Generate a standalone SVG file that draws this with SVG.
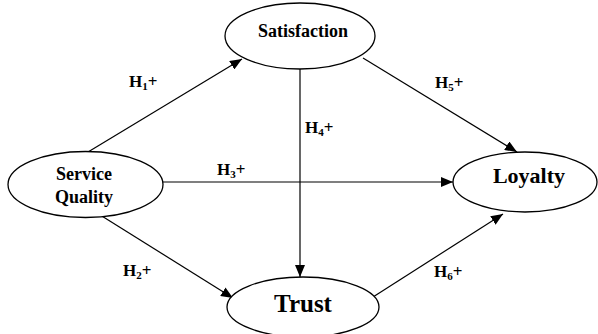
<svg xmlns="http://www.w3.org/2000/svg" width="598" height="334" viewBox="0 0 598 334">
<style>
.node{fill:#fff;stroke:#000;stroke-width:1.3}
.lbl{font-family:"Liberation Serif","Times New Roman",serif;font-weight:bold;fill:#000;text-anchor:middle}
.h{font-family:"Liberation Serif","Times New Roman",serif;font-weight:bold;font-size:17px;fill:#000}
.sub{font-size:11px}
.edge{stroke:#000;stroke-width:1.2;fill:none;marker-end:url(#ah)}
</style>
<defs>
<marker id="ah" viewBox="0 0 12 10" refX="12" refY="5" markerWidth="12" markerHeight="10" markerUnits="userSpaceOnUse" orient="auto">
<path d="M0,0 L12,5 L0,10 Z" fill="#000"/>
</marker>
</defs>
<rect width="598" height="334" fill="#fff"/>
<g id="connectors">
<line class="edge" x1="88" y1="152" x2="242" y2="59"/>
<line class="edge" x1="363" y1="58" x2="517" y2="152"/>
<line class="edge" x1="300" y1="69" x2="300" y2="277"/>
<line class="edge" x1="163" y1="182" x2="453" y2="182"/>
<line class="edge" x1="97" y1="213" x2="233" y2="298"/>
<line class="edge" x1="373" y1="297" x2="503" y2="214"/>
</g>
<g id="labels">
<text class="h" x="129" y="87">H<tspan class="sub" dy="3">1</tspan><tspan dy="-3">+</tspan></text>
<text class="h" x="435" y="88">H<tspan class="sub" dy="3">5</tspan><tspan dy="-3">+</tspan></text>
<text class="h" x="305" y="133">H<tspan class="sub" dy="3">4</tspan><tspan dy="-3">+</tspan></text>
<text class="h" x="217" y="175">H<tspan class="sub" dy="3">3</tspan><tspan dy="-3">+</tspan></text>
<text class="h" x="123" y="276">H<tspan class="sub" dy="3">2</tspan><tspan dy="-3">+</tspan></text>
<text class="h" x="434" y="277">H<tspan class="sub" dy="3">6</tspan><tspan dy="-3">+</tspan></text>
</g>
<g id="satisfaction">
<ellipse class="node" cx="300" cy="36" rx="75" ry="33"/>
<text class="lbl" x="303" y="37" font-size="18">Satisfaction</text>
</g>
<g id="service-quality">
<ellipse class="node" cx="85.5" cy="184.5" rx="77.5" ry="33"/>
<text class="lbl" x="84" y="180" font-size="18">Service</text>
<text class="lbl" x="84" y="203" font-size="18">Quality</text>
</g>
<g id="loyalty">
<ellipse class="node" cx="525" cy="182" rx="72" ry="30"/>
<text class="lbl" x="529" y="183" font-size="22">Loyalty</text>
</g>
<g id="trust">
<ellipse class="node" cx="303" cy="307" rx="76" ry="30"/>
<text class="lbl" x="303" y="312" font-size="25">Trust</text>
</g>
</svg>
